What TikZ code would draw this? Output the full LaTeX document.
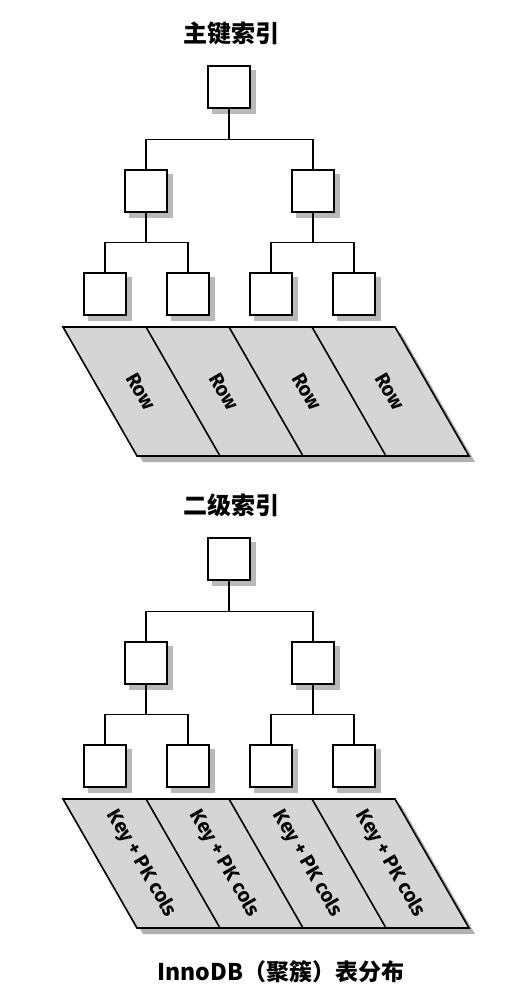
\documentclass[tikz,border=0pt]{standalone}
\usepackage{fontspec}
\setmainfont{Fira Sans}
\newfontfamily\cjk{Noto Sans CJK SC}
\usetikzlibrary{positioning}
\usetikzlibrary{backgrounds}
\usetikzlibrary{calc}

\tikzset{
  keybox/.style={draw, line width=1.5pt, fill=white, minimum size=42pt, inner sep=0pt},
  boxshadow/.style={fill=gray!55},
  link/.style={line width=1.3pt},
  slab/.style={draw, line width=1.6pt, fill=gray!33},
  slabshadow/.style={fill=gray!60},
  rowlabel/.style={rotate=-60, font=\bfseries\fontsize{20}{20}\selectfont},
  title/.style={font=\cjk\bfseries\fontsize{24}{24}\selectfont}
}

\begin{document}
\begin{tikzpicture}[x=1pt,y=-1pt]
\useasboundingbox (0,0) rectangle (508,1000);

\foreach \p/\dy/\ttl/\lab in {1/0/主键索引/Row, 2/472/二级索引/{Key + PK cols}} {
\begin{scope}[shift={(0,\dy)}]
% tree
\node[title] (title\p) at (231,33) {\ttl};
\node[keybox] (root\p) at (229,87) {};
\node[keybox] (left\p) at (146,191) {};
\node[keybox] (right\p) at (313,191) {};
\node[keybox] (leaf\p1) at (105,294) {};
\node[keybox] (leaf\p2) at (188,294) {};
\node[keybox] (leaf\p3) at (271,294) {};
\node[keybox] (leaf\p4) at (354,294) {};

\begin{scope}[on background layer]
\foreach \n in {root\p,left\p,right\p,leaf\p1,leaf\p2,leaf\p3,leaf\p4}
  \fill[boxshadow] ([shift={(5,5)}]\n.south west) rectangle ([shift={(5,5)}]\n.north east);
\end{scope}

\draw[link] (root\p.south) -- ++(0,31) -| (left\p.north);
\draw[link] (root\p.south) -- ++(0,31) -| (right\p.north);
\draw[link] (left\p.south) -- ++(0,30) -| (leaf\p1.north);
\draw[link] (left\p.south) -- ++(0,30) -| (leaf\p2.north);
\draw[link] (right\p.south) -- ++(0,30) -| (leaf\p3.north);
\draw[link] (right\p.south) -- ++(0,30) -| (leaf\p4.north);

% rows
\foreach \i in {0,...,4} {
  \coordinate (t\p\i) at (63+83*\i,327);
  \coordinate (b\p\i) at (137+83*\i,456);
}
\fill[slabshadow] ([shift={(6,6)}]t\p0) -- ([shift={(6,6)}]t\p4) -- ([shift={(6,6)}]b\p4) -- ([shift={(6,6)}]b\p0) -- cycle;
\path[slab] (t\p0) -- (t\p4) -- (b\p4) -- (b\p0) -- cycle;
\foreach \i in {1,2,3}
  \draw[line width=1.6pt] (t\p\i) -- (b\p\i);
\foreach \i [evaluate=\i as \j using int(\i-1)] in {1,...,4}
  \node[rowlabel] (row\p\i) at ($(t\p\j)!.5!(b\p\i)$) {\lab};
\end{scope}
}

\node[title, font=\cjk\bfseries\fontsize{23}{23}\selectfont] (caption) at (281,972) {InnoDB（聚簇）表分布};
\end{tikzpicture}
\end{document}
